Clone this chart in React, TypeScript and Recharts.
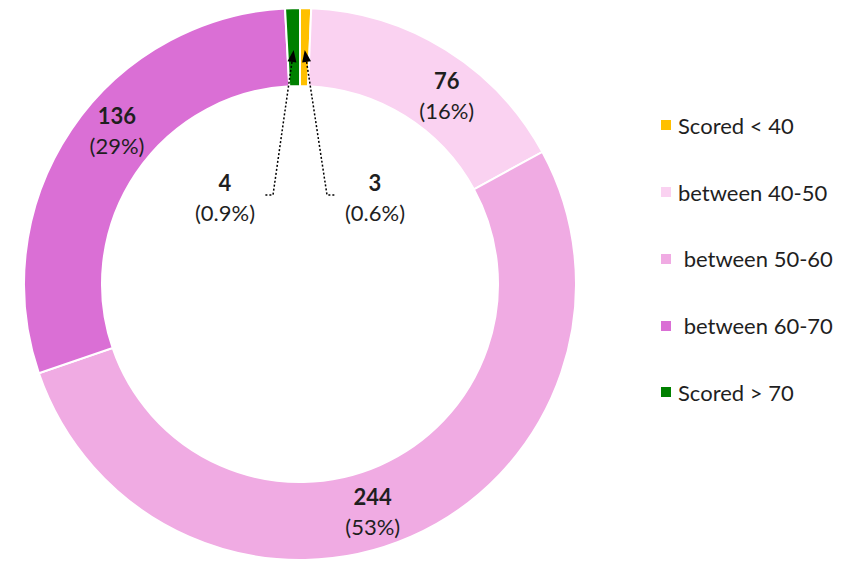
import React from 'react';
import { PieChart, Pie, Cell, Legend } from 'recharts';

// score bands, clockwise from 12 o'clock
const categories = ['Scored < 40', 'between 40-50', ' between 50-60', ' between 60-70', 'Scored > 70'];
const counts = [3, 76, 244, 136, 4];
const colors = ['#FFC000', '#FAD2F1', '#F0ABE3', '#DA6FD5', '#008000'];

const data = categories.map((name, i) => ({ name, value: counts[i] }));

const FONT = 'Lato, "Open Sans", sans-serif';
const TEXT = '#1f1f1f';
const RAD = Math.PI / 180;
const LABEL_SHIFT = 6; // excel nudges the labels a little clockwise

const polar = (cx: number, cy: number, r: number, angle: number) => ({
    x: cx + r * Math.cos(-angle * RAD),
    y: cy + r * Math.sin(-angle * RAD),
});

const pctText = (p: number) => (p < 0.01 ? (p * 100).toFixed(1) : Math.round(p * 100).toString()) + '%';

const renderLabel = (props: any) => {
    const { cx, cy, midAngle, innerRadius, outerRadius, value, percent } = props;

    if (percent < 0.02) {
        // tiny slice: dotted leader with an arrow into the ring
        const tip = polar(cx, cy, innerRadius + 36, midAngle);
        const side = tip.x < cx ? -1 : 1;
        const elbow = { x: cx + side * 27, y: cy - 89 };
        const end = { x: cx + side * 36, y: cy - 89 };
        const dx = tip.x - elbow.x;
        const dy = tip.y - elbow.y;
        const len = Math.sqrt(dx * dx + dy * dy);
        const ux = dx / len;
        const uy = dy / len;
        const bx = tip.x - ux * 12;
        const by = tip.y - uy * 12;
        const head = `${tip.x},${tip.y} ${bx - uy * 4.5},${by + ux * 4.5} ${bx + uy * 4.5},${by - ux * 4.5}`;
        const tx = cx + side * 75;
        return (
            <g>
                <polyline
                    points={`${bx},${by} ${elbow.x},${elbow.y} ${end.x},${end.y}`}
                    fill="none"
                    stroke="#000"
                    strokeWidth={1.5}
                    strokeDasharray="2 2"
                />
                <polygon points={head} fill="#000" />
                <text x={tx} y={cy - 102} textAnchor="middle" dominantBaseline="central"
                    fontFamily={FONT} fontSize={22} fontWeight="bold" fill={TEXT}>
                    {value}
                </text>
                <text x={tx} y={cy - 72} textAnchor="middle" dominantBaseline="central"
                    fontFamily={FONT} fontSize={22} fill={TEXT}>
                    ({pctText(percent)})
                </text>
            </g>
        );
    }

    const p = polar(cx, cy, (innerRadius + outerRadius) / 2 + 2, midAngle - LABEL_SHIFT);
    return (
        <g>
            <text x={p.x} y={p.y - 15} textAnchor="middle" dominantBaseline="central"
                fontFamily={FONT} fontSize={22} fontWeight="bold" fill={TEXT}>
                {value}
            </text>
            <text x={p.x} y={p.y + 15} textAnchor="middle" dominantBaseline="central"
                fontFamily={FONT} fontSize={22} fill={TEXT}>
                ({pctText(percent)})
            </text>
        </g>
    );
};

// legend keeps the series order instead of recharts' sorted payload
const renderLegend = () => (
    <div style={{ fontFamily: FONT, fontSize: 22, color: TEXT }}>
        {categories.map((name, i) => (
            <div key={name} style={{ display: 'flex', alignItems: 'center', height: 66.75 }}>
                <span style={{ width: 10, height: 10, background: colors[i], marginRight: 7, flex: 'none' }} />
                <span style={{ whiteSpace: 'pre' }}>{name}</span>
            </div>
        ))}
    </div>
);

export default function App() {
    return (
        <div style={{ position: 'absolute', left: 0, top: 0, width: 850, height: 561, background: '#fff' }}>
            <PieChart width={850} height={561} margin={{ top: 0, right: 0, bottom: 0, left: 0 }}>
                <Pie
                    data={data}
                    dataKey="value"
                    nameKey="name"
                    cx={300}
                    cy={284}
                    innerRadius={198}
                    outerRadius={276}
                    startAngle={90}
                    endAngle={-270}
                    stroke="#fff"
                    strokeWidth={2}
                    label={renderLabel}
                    labelLine={false}
                    isAnimationActive={false}
                >
                    {data.map((d, i) => (
                        <Cell key={d.name} fill={colors[i]} />
                    ))}
                </Pie>
                <Legend
                    layout="vertical"
                    align="right"
                    verticalAlign="top"
                    content={renderLegend}
                    wrapperStyle={{ left: 661, top: 92, width: 189 }}
                />
            </PieChart>
        </div>
    );
}
